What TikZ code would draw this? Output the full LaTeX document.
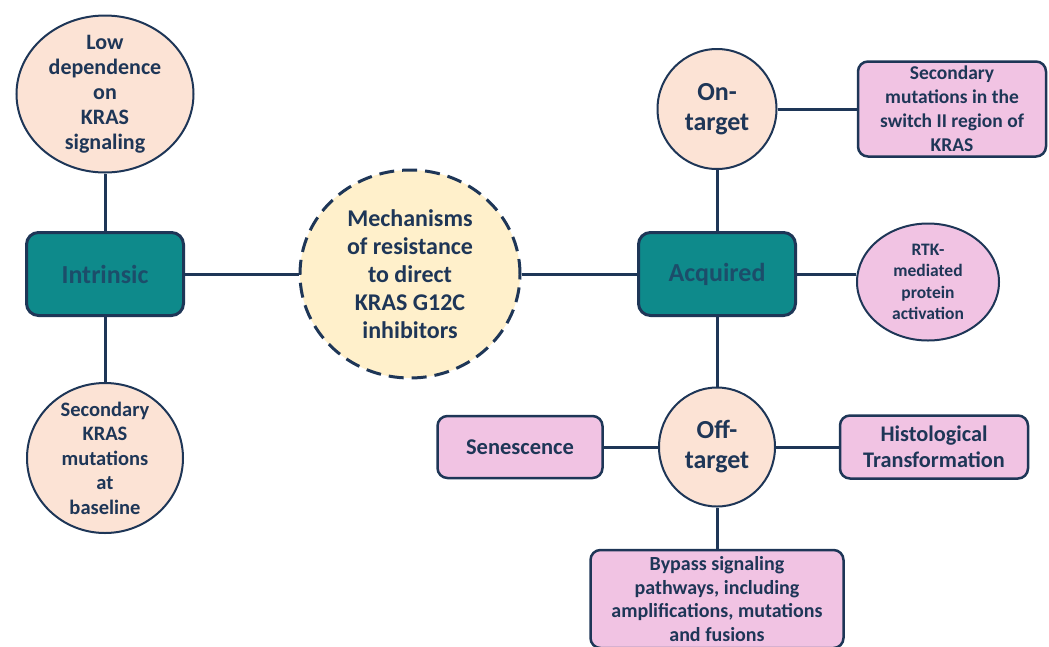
\documentclass[tikz,border=0pt]{standalone}
\usepackage{fontspec}
\setmainfont{Carlito}
\usetikzlibrary{shapes.geometric}
\definecolor{navy}{HTML}{1E3657}
\definecolor{hubfill}{HTML}{0E8A8B}
\definecolor{hubtext}{HTML}{1C4D6A}
\definecolor{peach}{HTML}{FCE3D5}
\definecolor{cream}{HTML}{FFF0CB}
\definecolor{pinkbox}{HTML}{F1C3E3}
\tikzset{
  bubble/.style={ellipse, draw=navy, line width=2pt, fill=peach, inner sep=-16pt,
    align=center, text=navy, font=\bfseries\fontsize{22}{25}\selectfont},
  hub/.style={rectangle, rounded corners=12pt, draw=navy, line width=3pt, fill=hubfill,
    text=hubtext, minimum width=157, minimum height=83, font=\bfseries\fontsize{26}{30}\selectfont},
  tag/.style={rectangle, rounded corners=10pt, draw=navy, line width=2.5pt, fill=pinkbox,
    align=center, text=navy, inner sep=0pt, font=\bfseries\fontsize{19.5}{24}\selectfont},
  link/.style={draw=navy, line width=3pt}
}
\begin{document}
\begin{tikzpicture}[x=1pt,y=-1pt]
      \useasboundingbox (0,0) rectangle (1049,646);
      \node[bubble, minimum width=177, minimum height=157] (lowdep) at (105, 94)
        {Low\\dependence\\on\\KRAS\\signaling};
      \node[hub] (intrinsic) at (105, 274){Intrinsic};
      \node[bubble, minimum width=156, minimum height=150, font=\bfseries\fontsize{20.5}{24.5}\selectfont] (krasbase) at (105, 458)
        {Secondary\\KRAS\\mutations\\at\\baseline};
      \node[bubble, fill=cream, line width=3pt, dash pattern=on 15pt off 8pt,
        minimum width=220, minimum height=208, font=\bfseries\fontsize{24}{28}\selectfont] (mech) at (410, 274)
        {Mechanisms\\of resistance\\to direct\\KRAS G12C\\inhibitors};
      \node[hub] (acquired) at (717, 274){Acquired};
      \node[bubble, minimum width=119, minimum height=120, font=\bfseries\fontsize{26}{30}\selectfont] (ontarget) at (717, 109)
        {On-\\target};
      \node[tag, minimum width=188, minimum height=95] (switch) at (952, 109)
        {Secondary\\mutations in the\\switch II region of\\KRAS};
      \node[bubble, fill=pinkbox, minimum width=142, minimum height=117, font=\bfseries\fontsize{17.5}{21.5}\selectfont] (rtk) at (928, 282)
        {RTK-\\mediated\\protein\\activation};
      \node[bubble, minimum width=116, minimum height=119, font=\bfseries\fontsize{26}{30}\selectfont] (offtarget) at (717, 447)
        {Off-\\target};
      \node[tag, minimum width=165, minimum height=62, font=\bfseries\fontsize{22.5}{27}\selectfont] (senescence) at (520, 447)
        {Senescence};
      \node[tag, minimum width=188, minimum height=63, font=\bfseries\fontsize{22.3}{26}\selectfont] (histo) at (934, 447)
        {Histological\\Transformation};
      \node[tag, minimum width=253, minimum height=98, font=\bfseries\fontsize{20}{23.5}\selectfont] (bypass) at (717, 599)
        {Bypass signaling\\pathways, including\\amplifications, mutations\\and fusions};

      \draw[link] (lowdep.south) to (intrinsic.north);
      \draw[link] (intrinsic.south) to (krasbase.north);
      \draw[link] (intrinsic.east) to (mech.west);
      \draw[link] (mech.east) to (acquired.west);
      \draw[link] (acquired.north) to (ontarget.south);
      \draw[link] (ontarget.east) to (switch.west);
      \draw[link] (acquired.east) to (acquired.east -| rtk.west);
      \draw[link] (acquired.south) to (offtarget.north);
      \draw[link] (offtarget.west) to (senescence.east);
      \draw[link] (offtarget.east) to (histo.west);
      \draw[link] (offtarget.south) to (bypass.north);
    \end{tikzpicture}
\end{document}
